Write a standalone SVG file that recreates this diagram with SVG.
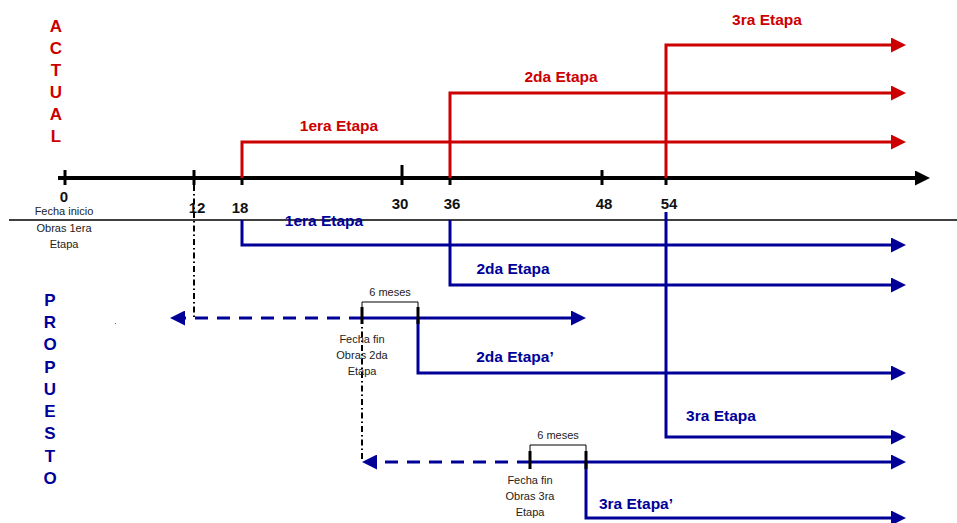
<svg xmlns="http://www.w3.org/2000/svg" width="957" height="523" viewBox="0 0 957 523">
<style>
  .lbl { font-family: "Liberation Sans", Arial, sans-serif; font-weight: bold; font-size: 15.5px; text-anchor: middle; }
  .red { fill: #cc0000; }
  .blue { fill: #000099; }
  .num { font-family: "Liberation Sans", Arial, sans-serif; font-weight: bold; font-size: 15px; text-anchor: middle; fill: #111; }
  .small { font-family: "Liberation Sans", Arial, sans-serif; font-size: 11px; text-anchor: middle; fill: #222; }
  .vert { font-family: "Liberation Sans", Arial, sans-serif; font-weight: bold; font-size: 17px; text-anchor: middle; }
  .rl { fill: none; stroke: #cc0000; stroke-width: 3; }
  .bl { fill: none; stroke: #000099; stroke-width: 3; }
  .bd { fill: none; stroke: #000099; stroke-width: 3; stroke-dasharray: 13 9; }
  .dd { fill: none; stroke: #000; stroke-width: 2; stroke-dasharray: 6 3 1.5 3; }
  .tk { stroke: #000; stroke-width: 3; }
  .br { fill: none; stroke: #000; stroke-width: 1; }
</style>
<defs>
  <marker id="ar" viewBox="0 0 15 15" markerWidth="15" markerHeight="15" markerUnits="userSpaceOnUse" refX="0" refY="7.5" orient="auto">
    <path d="M0,0 L15,7.5 L0,15 z" fill="#cc0000"/>
  </marker>
  <marker id="ab" viewBox="0 0 15 15" markerWidth="15" markerHeight="15" markerUnits="userSpaceOnUse" refX="0" refY="7.5" orient="auto">
    <path d="M0,0 L15,7.5 L0,15 z" fill="#000099"/>
  </marker>
  <marker id="ak" viewBox="0 0 15 15" markerWidth="15" markerHeight="15" markerUnits="userSpaceOnUse" refX="0" refY="7.5" orient="auto">
    <path d="M0,0 L15,7.5 L0,15 z" fill="#000"/>
  </marker>
</defs>
<rect width="957" height="523" fill="#fff"/>

<g id="side-labels">
  <text class="vert red" x="56"><tspan x="56" y="32">A</tspan><tspan x="56" y="54">C</tspan><tspan x="56" y="76">T</tspan><tspan x="56" y="98">U</tspan><tspan x="56" y="120">A</tspan><tspan x="56" y="142">L</tspan></text>
  <text class="vert blue" x="50"><tspan x="50" y="306">P</tspan><tspan x="50" y="328">R</tspan><tspan x="50" y="350">O</tspan><tspan x="50" y="373">P</tspan><tspan x="50" y="395">U</tspan><tspan x="50" y="417">E</tspan><tspan x="50" y="439">S</tspan><tspan x="50" y="462">T</tspan><tspan x="50" y="484">O</tspan></text>
  <rect x="115" y="323" width="1" height="1" fill="#666"/>
</g>

<g id="axis">
  <line x1="58" y1="178" x2="915" y2="178" stroke="#000" stroke-width="4" marker-end="url(#ak)"/>
  <line class="tk" x1="65" y1="170" x2="65" y2="185"/>
  <line class="tk" x1="194" y1="170" x2="194" y2="185"/>
  <line class="tk" x1="242" y1="176" x2="242" y2="185"/>
  <line class="tk" x1="402" y1="165" x2="402" y2="185"/>
  <line class="tk" x1="450" y1="176" x2="450" y2="185"/>
  <line class="tk" x1="602" y1="170" x2="602" y2="185"/>
  <line class="tk" x1="666" y1="176" x2="666" y2="185"/>
  <text class="num" x="64" y="202">0</text>
  <text class="num" x="197" y="213">12</text>
  <text class="num" x="240" y="213">18</text>
  <text class="num" x="400" y="209">30</text>
  <text class="num" x="452" y="209">36</text>
  <text class="num" x="604" y="209">48</text>
  <text class="num" x="669" y="209">54</text>
  <text class="small"><tspan x="64" y="215">Fecha inicio</tspan><tspan x="64" y="232">Obras 1era</tspan><tspan x="64" y="248">Etapa</tspan></text>
  <line x1="9" y1="220" x2="957" y2="220" stroke="#000" stroke-width="1.6"/>
</g>

<g id="connectors">
  <path class="rl" d="M242,178 V142 H891" marker-end="url(#ar)"/>
  <path class="rl" d="M450,178 V93 H891" marker-end="url(#ar)"/>
  <path class="rl" d="M666,178 V45 H891" marker-end="url(#ar)"/>

  <path class="bl" d="M242,220 V245 H891" marker-end="url(#ab)"/>
  <path class="bl" d="M450,220 V285 H891" marker-end="url(#ab)"/>
  <path class="bl" d="M666,212 V437 H891" marker-end="url(#ab)"/>
  <path class="bl" d="M418,318 V373 H891" marker-end="url(#ab)"/>
  <path class="bl" d="M586,462 V518 H891" marker-end="url(#ab)"/>

  <path class="bl" d="M362,318 H571" marker-end="url(#ab)"/>
  <path class="bd" d="M362,318 H185" marker-end="url(#ab)"/>
  <path class="bl" d="M530,462 H891" marker-end="url(#ab)"/>
  <path class="bd" d="M530,462 H377" marker-end="url(#ab)"/>

  <path class="dd" d="M194,185 V318"/>
  <path class="dd" d="M362,318 V462"/>
</g>

<g id="bracket-1">
  <path class="br" d="M362,310 V302 H418 V310"/>
  <line class="tk" x1="362" y1="307" x2="362" y2="324"/>
  <line class="tk" x1="418" y1="307" x2="418" y2="324"/>
  <text class="small" x="390" y="296">6 meses</text>
  <text class="small"><tspan x="362" y="343">Fecha fin</tspan><tspan x="362" y="359">Obras 2da</tspan><tspan x="362" y="375">Etapa</tspan></text>
</g>

<g id="bracket-2">
  <path class="br" d="M530,454 V445 H586 V454"/>
  <line class="tk" x1="530" y1="451" x2="530" y2="469"/>
  <line class="tk" x1="586" y1="451" x2="586" y2="469"/>
  <text class="small" x="558" y="439">6 meses</text>
  <text class="small"><tspan x="530" y="484">Fecha fin</tspan><tspan x="530" y="500">Obras 3ra</tspan><tspan x="530" y="516">Etapa</tspan></text>
</g>

<g id="actual-1era"><text class="lbl red" x="339" y="131">1era Etapa</text></g>
<g id="actual-2da"><text class="lbl red" x="561" y="82">2da Etapa</text></g>
<g id="actual-3ra"><text class="lbl red" x="767" y="25">3ra Etapa</text></g>

<g id="prop-1era"><text class="lbl blue" x="324" y="226">1era Etapa</text></g>
<g id="prop-2da"><text class="lbl blue" x="513" y="274">2da Etapa</text></g>
<g id="prop-2da-b"><text class="lbl blue" x="515" y="362">2da Etapa’</text></g>
<g id="prop-3ra"><text class="lbl blue" x="721" y="421">3ra Etapa</text></g>
<g id="prop-3ra-b"><text class="lbl blue" x="636" y="509">3ra Etapa’</text></g>
</svg>
